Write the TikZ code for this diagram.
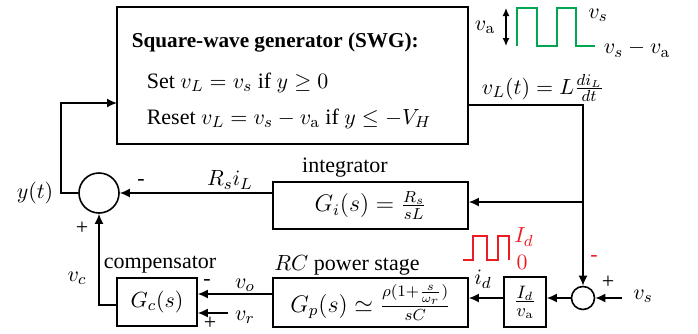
\documentclass[tikz,border=0pt]{standalone}
\usepackage[no-math]{fontspec}
\setmainfont{Liberation Serif}
\usetikzlibrary{arrows.meta,calc}
\definecolor{wgreen}{RGB}{0,166,81}
\definecolor{wred}{RGB}{237,28,36}
\begin{document}
\begin{tikzpicture}[x=0.5pt,y=-0.5pt,
  line width=0.8pt,
  every node/.style={font=\fontsize{11}{13}\selectfont},
  arr/.style={-{Latex[length=5pt,width=4.5pt]}},
  blk/.style={draw,rectangle,inner sep=0pt},
  sumc/.style={draw,circle,inner sep=0pt},
  lbl/.style={inner sep=0pt}]
\useasboundingbox (0,0) rectangle (698,333);
% blocks
\node[blk,minimum width=175.5pt,minimum height=68.5pt] (swg) at (292.5,75.5) {};
\node[lbl,anchor=base west,font=\fontsize{10.6}{13}\selectfont\bfseries] (t1) at (131,47) {Square-wave generator (SWG):};
\node[lbl,anchor=base west] (t2) at (146,88) {Set $v_L=v_s$ if $y\geq 0$};
\node[lbl,anchor=base west] (t3) at (146,124) {Reset $v_L=v_s-v_{\mathrm{a}}$ if $y\leq -V_H$};
\node[blk,minimum width=97.5pt,minimum height=23.5pt,font=\fontsize{12}{14}\selectfont] (int) at (370.5,205.5) {$G_i(s)=\frac{R_s}{sL}$};
\node[blk,minimum width=97.5pt,minimum height=24.5pt,font=\fontsize{12}{14}\selectfont] (gp) at (370.5,302.5) {$G_p(s)\simeq\frac{\rho(1+\frac{s}{\omega_r})}{sC}$};
\node[blk,minimum width=40pt,minimum height=24pt] (gc) at (157,302) {$G_c(s)$};
\node[blk,minimum width=21pt,minimum height=25pt,font=\fontsize{12.5}{14}\selectfont] (idb) at (525,302) {$\frac{I_d}{v_{\mathrm{a}}}$};
\node[sumc,minimum size=20pt] (s1) at (99,193) {};
\node[sumc,minimum size=11.5pt] (s2) at (583,298) {};
% coordinates
\coordinate (swgout) at (468,105);
\coordinate (tap) at (583,202);
\coordinate (yl) at (61,193);
\coordinate (swgin) at (117,103);
\coordinate (vo) at (0,294);
\coordinate (gco) at (0,305);
\coordinate (vr) at (228,313);
\coordinate (vsin) at (622,298);
% connectors
\draw[arr] (swgout) -| (s2.north);
\draw[arr] (tap) -- (tap -| int.east);
\draw[arr] (int.west |- s1) -- (s1.east);
\draw[arr] (s1.west) -- (yl) |- (swgin);
\draw[arr] (gc.west |- gco) -| (s1.south);
\draw[arr] (gp.west |- vo) -- (gc.east |- vo);
\draw[arr] (vr) -- (vr -| gc.east);
\draw[arr] (idb.west |- s2) -- (gp.east |- s2);
\draw[arr] (s2.west) -- (idb.east |- s2);
\draw[arr] (vsin) -- (s2.east);
% labels
\node[lbl] (ly) at (35,193) {$y(t)$};
\node[lbl] (m1) at (141,182) {-};
\node[lbl] (p1) at (82,228) {+};
\node[lbl] (lri) at (230,180) {$R_si_L$};
\node[lbl] (lint) at (345,168) {integrator};
\node[lbl] (lrc) at (347,265) {$RC$ power stage};
\node[lbl] (lcomp) at (160,265) {compensator};
\node[lbl] (lvc) at (77,278) {$v_c$};
\node[lbl] (m2) at (207,282) {-};
\node[lbl] (lvo) at (245,285) {$v_o$};
\node[lbl] (lvr) at (245,317) {$v_r$};
\node[lbl] (p2) at (210,323) {+};
\node[lbl] (lid) at (483,279) {$i_d$};
\node[lbl,text=wred] (m3) at (594,258) {-};
\node[lbl] (p3) at (608,282) {+};
\node[lbl] (lvs) at (643,296) {$v_s$};
\node[lbl] (lvl) at (543,88) {$v_L(t)=L\frac{di_L}{dt}$};
% red wave
\draw[wred,line width=1pt] (463,260) -- (473,260) -- (473,236) -- (487,236) -- (487,260) -- (498,260) -- (498,236) -- (509,236) -- (509,260);
\node[lbl,text=wred] (lId) at (524,237) {$I_d$};
\node[lbl,text=wred] (l0) at (522,262) {$0$};
% green wave
\draw[wgreen,line width=1pt] (517,46) -- (517,8) -- (537,8) -- (537,46) -- (557,46) -- (557,8) -- (576,8) -- (576,46) -- (595,46);
\coordinate (vat) at (506,8);
\coordinate (vab) at (506,46);
\draw[{Latex[length=4pt,width=3.5pt]}-{Latex[length=4pt,width=3.5pt]},line width=0.6pt] (vat) -- (vab);
\node[lbl] (lva) at (485,27) {$v_{\mathrm{a}}$};
\node[lbl] (lvs2) at (598,15) {$v_s$};
\node[lbl] (lvsva) at (637,49) {$v_s-v_{\mathrm{a}}$};
\end{tikzpicture}
\end{document}
